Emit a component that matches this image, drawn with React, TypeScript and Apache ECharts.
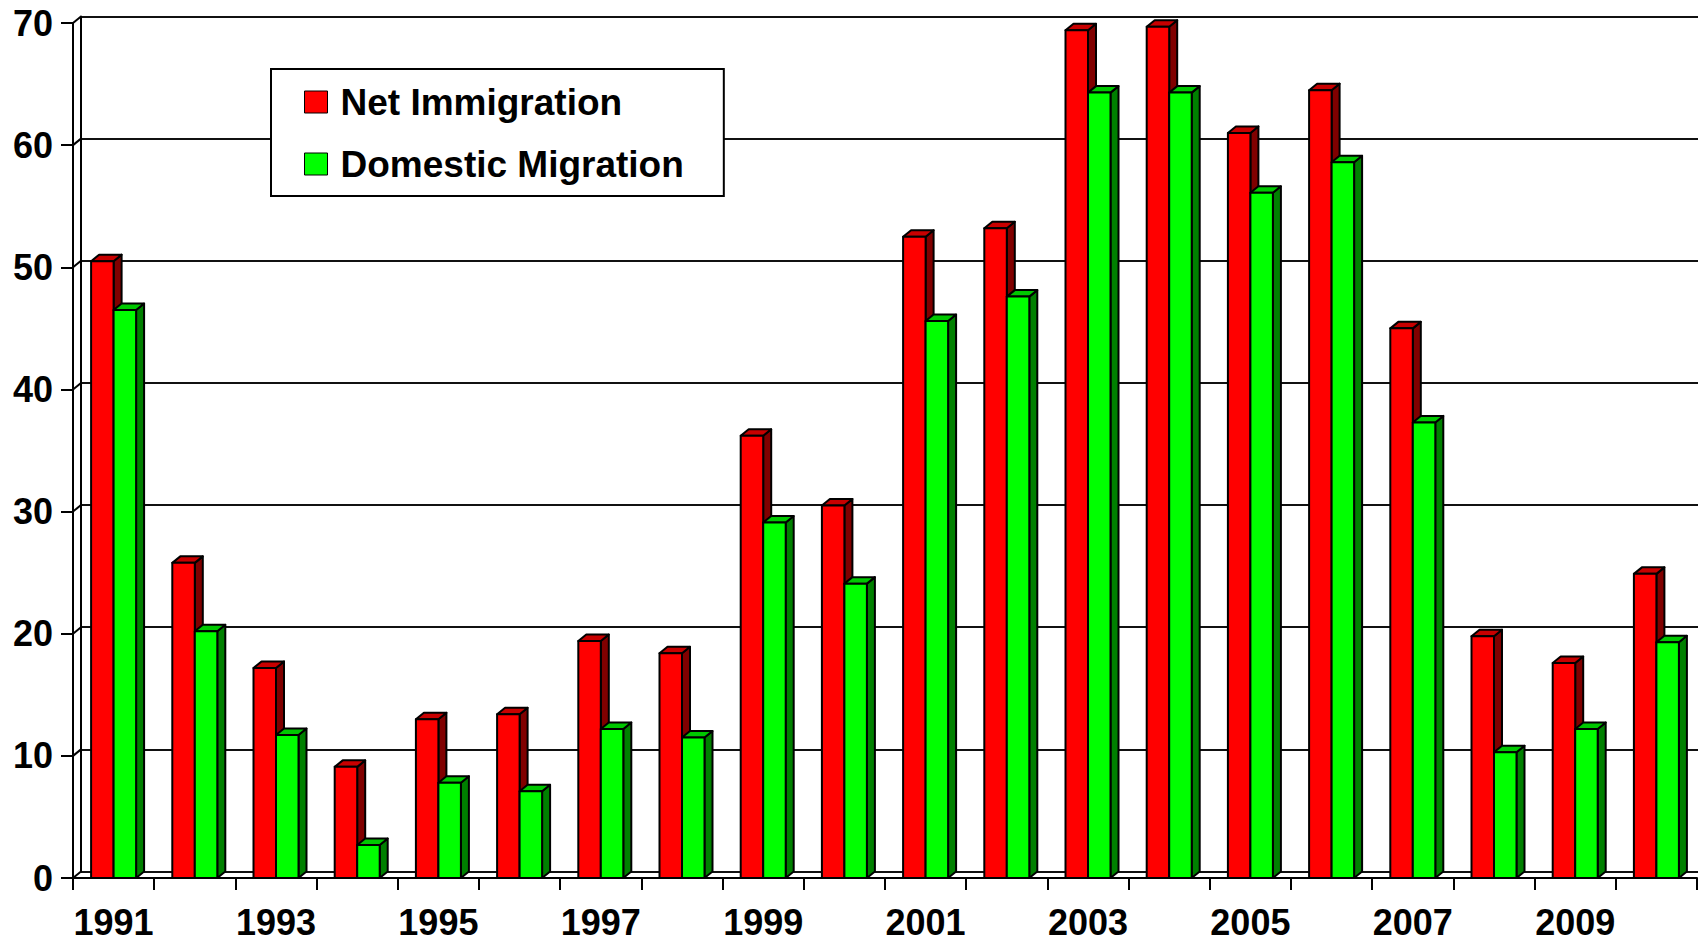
import React, { useEffect, useRef } from "react";
import * as echarts from "echarts";

const years = [
  "1991", "1992", "1993", "1994", "1995", "1996", "1997", "1998", "1999", "2000",
  "2001", "2002", "2003", "2004", "2005", "2006", "2007", "2008", "2009", "2010",
];
const netImmigration = [
  50.5, 25.8, 17.2, 9.1, 13.0, 13.4, 19.4, 18.4, 36.2, 30.5,
  52.5, 53.2, 69.4, 69.7, 61.0, 64.5, 45.0, 19.8, 17.6, 24.9,
];
const domesticMigration = [
  46.5, 20.2, 11.7, 2.7, 7.8, 7.1, 12.2, 11.5, 29.1, 24.1,
  45.6, 47.6, 64.3, 64.3, 56.1, 58.6, 37.3, 10.3, 12.2, 19.3,
];
const yTicks = [0, 10, 20, 30, 40, 50, 60, 70];

const FONT = "'Liberation Sans', Arial, Helvetica, sans-serif";
// depth offset of the pseudo-3D walls and bars
const DX = 8;
const DY = -6.5;
const BAR_W = 22.5;

const red = { front: "#ff0000", top: "#c80000", side: "#800000" };
const green = { front: "#00ff00", top: "#00c800", side: "#008000" };

function barRenderer(colors: typeof red, offset: number) {
  return (params: any, api: any) => {
    const idx = api.value(0);
    const val = api.value(1);
    const top = api.coord([idx, val]);
    const base = api.coord([idx, 0]);
    const x0 = top[0] + offset;
    const y0 = top[1];
    const yb = base[1];
    const stroke = { stroke: "#000", lineWidth: 2, lineJoin: "round" };
    return {
      type: "group",
      children: [
        {
          type: "polygon",
          shape: {
            points: [
              [x0 + BAR_W, y0],
              [x0 + BAR_W + DX, y0 + DY],
              [x0 + BAR_W + DX, yb + DY],
              [x0 + BAR_W, yb],
            ],
          },
          style: { fill: colors.side, ...stroke },
        },
        {
          type: "polygon",
          shape: {
            points: [
              [x0, y0],
              [x0 + DX, y0 + DY],
              [x0 + BAR_W + DX, y0 + DY],
              [x0 + BAR_W, y0],
            ],
          },
          style: { fill: colors.top, ...stroke },
        },
        {
          type: "rect",
          shape: { x: x0, y: y0, width: BAR_W, height: yb - y0 },
          style: { fill: colors.front, ...stroke },
        },
      ],
    };
  };
}

export default function App() {
  const ref = useRef<HTMLDivElement>(null);

  useEffect(() => {
    if (!ref.current) return;
    const chart = echarts.init(ref.current, null, { renderer: "svg" });

    const option: any = {
      animation: false,
      backgroundColor: "#fff",
      textStyle: { fontFamily: FONT },
      grid: [
        // front plane (axes, bars)
        { left: 73, right: 1, top: 23, bottom: 64, containLabel: false },
        // back wall (gridlines)
        { left: 73 + DX, right: 0, top: 23 + DY, bottom: 64 - DY, containLabel: false },
      ],
      xAxis: [
        {
          type: "category",
          gridIndex: 0,
          data: years,
          boundaryGap: true,
          axisLine: { show: true, lineStyle: { color: "#000", width: 2 } },
          axisTick: {
            show: true,
            interval: 0,
            alignWithLabel: false,
            length: 12,
            lineStyle: { color: "#000", width: 2 },
          },
          axisLabel: {
            interval: 1,
            margin: 26,
            color: "#000",
            fontSize: 36,
            fontWeight: "bold",
            fontFamily: FONT,
          },
          splitLine: { show: false },
        },
        {
          type: "category",
          gridIndex: 1,
          data: years,
          show: false,
        },
      ],
      yAxis: [
        {
          type: "value",
          gridIndex: 0,
          min: 0,
          max: 70,
          interval: 10,
          axisLine: { show: true, lineStyle: { color: "#000", width: 2 } },
          axisTick: { show: true, length: 12, lineStyle: { color: "#000", width: 2 } },
          axisLabel: {
            margin: 20,
            color: "#000",
            fontSize: 36,
            fontWeight: "bold",
            fontFamily: FONT,
          },
          splitLine: { show: false },
        },
        {
          type: "value",
          gridIndex: 1,
          min: 0,
          max: 70,
          interval: 10,
          axisLine: { show: true, lineStyle: { color: "#000", width: 2 } },
          axisTick: { show: false },
          axisLabel: { show: false },
          splitLine: { show: true, lineStyle: { color: "#111", width: 2 } },
        },
      ],
      legend: {
        orient: "vertical",
        left: 271,
        top: 69,
        padding: [14.5, 40, 13.5, 33],
        itemWidth: 23,
        itemHeight: 22,
        itemGap: 25,
        backgroundColor: "#fff",
        borderColor: "#000",
        borderWidth: 2,
        borderRadius: 0,
        textStyle: {
          fontSize: 37,
          fontWeight: "bold",
          color: "#000",
          fontFamily: FONT,
          padding: [0, 0, 0, 8],
        },
        data: [
          { name: "Net Immigration", icon: "rect", itemStyle: { color: red.front, borderColor: "#000", borderWidth: 1 } },
          { name: "Domestic Migration", icon: "rect", itemStyle: { color: green.front, borderColor: "#000", borderWidth: 1 } },
        ],
      },
      series: [
        {
          // slanted edges joining the front axis ticks to the back wall
          type: "custom",
          name: "wallEdges",
          xAxisIndex: 0,
          yAxisIndex: 0,
          silent: true,
          z: 1,
          data: yTicks.map((v) => [0, v]),
          encode: { x: 0, y: 1 },
          renderItem: (params: any, api: any) => {
            const p = api.coord([0, api.value(1)]);
            const half = api.size([1, 0])[0] / 2;
            const x = p[0] - half;
            return {
              type: "line",
              shape: { x1: x, y1: p[1], x2: x + DX, y2: p[1] + DY },
              style: { stroke: "#000", lineWidth: 2 },
            };
          },
        },
        {
          type: "custom",
          name: "Net Immigration",
          xAxisIndex: 0,
          yAxisIndex: 0,
          z: 3,
          itemStyle: { color: red.front },
          data: netImmigration.map((v, i) => [i, v]),
          encode: { x: 0, y: 1 },
          renderItem: barRenderer(red, -BAR_W),
        },
        {
          type: "custom",
          name: "Domestic Migration",
          xAxisIndex: 0,
          yAxisIndex: 0,
          z: 4,
          itemStyle: { color: green.front },
          data: domesticMigration.map((v, i) => [i, v]),
          encode: { x: 0, y: 1 },
          renderItem: barRenderer(green, 0),
        },
      ],
    };

    chart.setOption(option);
    return () => chart.dispose();
  }, []);

  return (
    <div
      ref={ref}
      style={{ position: "absolute", left: 0, top: 0, width: 1698, height: 942, background: "#fff" }}
    />
  );
}
